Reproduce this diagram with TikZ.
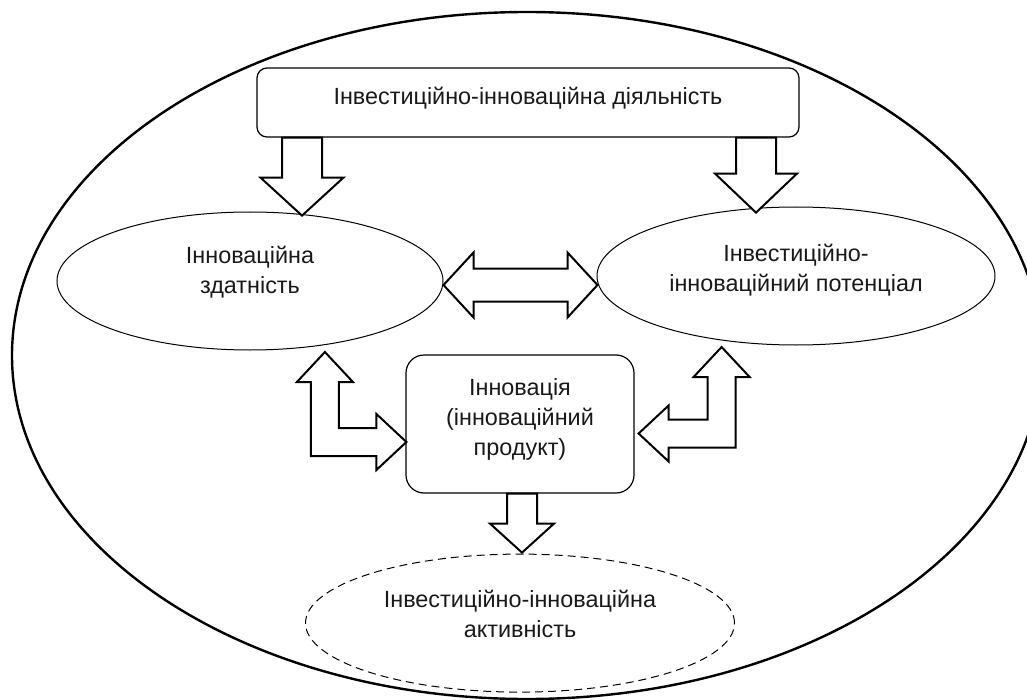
\documentclass[tikz,border=0pt]{standalone}
\usepackage{fontspec}
\setmainfont{Liberation Sans}
\usepackage{tikz}
\usetikzlibrary{shapes,positioning,calc}
\newcommand{\lifted}[2]{\raisebox{#1}[\height][\depth]{\begin{tabular}{@{}c@{}}#2\end{tabular}}}
\tikzset{
  every node/.style={
    font=\fontsize{11.7}{15}\selectfont,
    text=black!90,
    align=center,
    inner sep=0pt
  },
  field/.style={
    draw,
    shape=ellipse,
    line width=1.2pt,
    minimum width=515pt,
    minimum height=343.5pt
  },
  factor ellipse/.style={
    draw,
    shape=ellipse,
    line width=0.5pt,
    minimum height=69pt
  },
  result ellipse/.style={
    factor ellipse,
    dash pattern=on 4pt off 2.5pt
  },
  round box/.style={
    draw,
    rounded corners=#1,
    line width=0.6pt
  },
  fat arrow/.style={
    draw,
    line width=1pt,
    fill=white
  },
  % length, shaft half width, head half width, head length
  pics/downarrow/.style n args={4}{code={
    \draw[fat arrow] (-#2,0) -- (#2,0) -- (#2,#1-#4) -- (#3,#1-#4) -- (0,#1)
      -- (-#3,#1-#4) -- (-#2,#1-#4) -- cycle;
  }},
  pics/dblarrow/.style n args={4}{code={
    \draw[fat arrow] (0,0) -- (#4,-#3) -- (#4,-#2) -- (#1-#4,-#2) -- (#1-#4,-#3)
      -- (#1,0) -- (#1-#4,#3) -- (#1-#4,#2) -- (#4,#2) -- (#4,#3) -- cycle;
  }},
  pics/larrow/.style 2 args={code={
    \draw[fat arrow] (0,-#1) -- (28,-#1+30) -- (14,-#1+30) -- (14,-14) -- (#2-30,-14)
      -- (#2-30,-28) -- (#2,0) -- (#2-30,28) -- (#2-30,14) -- (-14,14)
      -- (-14,-#1+30) -- (-28,-#1+30) -- cycle;
  }}
}

\begin{document}
\begin{tikzpicture}[x=0.5pt, y=-0.5pt, node distance=30pt]
 \useasboundingbox (0,0) rectangle (1027,700);
 \clip (0,0) rectangle (1027,700);

 \node[field] (field) at (527,355.5) {};
 \node[round box=5pt, minimum width=271pt, minimum height=34.5pt] (act) at (528,102.5)
   {\lifted{2pt}{Інвестиційно-інноваційна діяльність}};
 \node[factor ellipse, minimum width=193pt] (cap) at (250,281)
   {\lifted{4.5pt}{Інноваційна\\здатність}};
 \node[factor ellipse, minimum width=199pt] (pot) at (796,276)
   {\lifted{2.8pt}{Інвестиційно-\\інноваційний потенціал}};
 \node[round box=9pt, minimum width=114pt, minimum height=69pt] (prod) at (520,424)
   {\lifted{2.3pt}{Інновація\\(інноваційний\\продукт)}};
 \node[result ellipse, minimum width=214.5pt] (actv) [below=of prod]
   {\lifted{3.5pt}{Інвестиційно-інноваційна\\активність}};

 \pic at ($(act.south)+(-226,0)$) {downarrow={78}{20}{41.5}{38}};
 \pic at ($(act.south)+(228,0)$) {downarrow={75}{20}{41}{39}};
 \pic at ($(cap.east)+(0,4)$) {dblarrow={154}{16.5}{32.5}{30}};
 \pic at ($(prod.west)+(-80.5,18)$) {larrow={90}{81.5}};
 \pic[xscale=-1] at ($(prod.east)+(87,9.5)$) {larrow={86.5}{83}};
 \pic at ($(prod.south)+(2,0)$) {downarrow={59}{15}{32}{29}};
\end{tikzpicture}
\end{document}
